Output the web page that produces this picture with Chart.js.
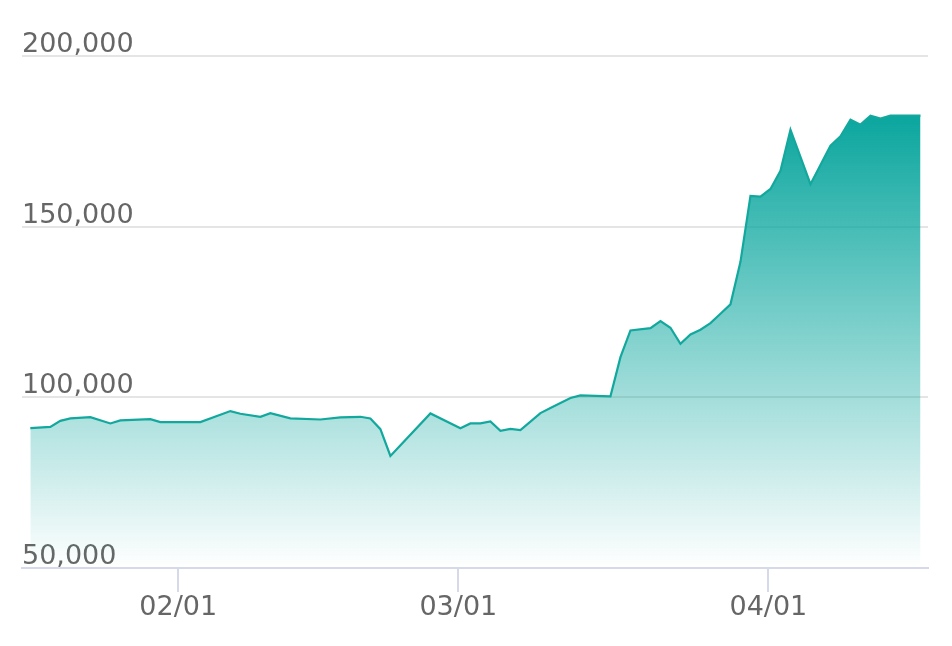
<!DOCTYPE html>
<html>
<head>
<meta charset="utf-8">
<script src="https://cdn.jsdelivr.net/npm/chart.js@4.4.1/dist/chart.umd.min.js"></script>
<style>
html,body{margin:0;padding:0;background:#ffffff;}
canvas{display:block;}
</style>
</head>
<body>
<canvas id="c" width="952" height="646"></canvas>
<script>
// ---- data ----
const YEAR = 2021;
const DATA_HOUR = 5;
const dates = [
  '01-17','01-19','01-20','01-21','01-23','01-25','01-26','01-29','01-30','02-03',
  '02-06','02-07','02-09','02-10','02-12','02-15','02-17','02-19','02-20','02-21',
  '02-22','02-26','03-01','03-02','03-03','03-04','03-05','03-06','03-07','03-09',
  '03-10','03-12','03-13','03-16','03-17','03-18','03-20','03-21','03-22','03-23',
  '03-24','03-25','03-26','03-27','03-28','03-29','03-30','03-31','04-01','04-02',
  '04-03','04-05','04-07','04-08','04-09','04-10','04-11','04-12','04-13','04-16'
];
const values = [
  90970, 91350, 93120, 93820, 94200, 92350, 93230, 93620, 92740, 92740,
  95970, 95180, 94300, 95380, 93820, 93500, 94110, 94300, 93820, 90680,
  82820, 95290, 90970, 92350, 92350, 92940, 90180, 90770, 90380, 95380,
  96850, 99790, 100590, 100290, 111760, 119590, 120290, 122350, 120380, 115680,
  118410, 119790, 121760, 124500, 127240, 139700, 159000, 158820, 161060, 166350,
  178410, 162440, 173710, 176470, 181350, 179880, 182530, 181650, 182530, 182530
];
const xTickDates = ['02-01', '03-01', '04-01'];
const xTickLabels = ['02/01', '03/01', '04/01'];
const xRange = ['01-16T09', '04-16T23'];
const yMin = 50000;
const yMax = 200000;
const yStep = 50000;

// ---- helpers ----
function dayNum(s) {
  const [d, t] = s.split('T');
  const [m, dd] = d.split('-').map(Number);
  const h = t ? Number(t) : 0;
  return (Date.UTC(YEAR, m - 1, dd) - Date.UTC(YEAR, 0, 1)) / 864e5 + h / 24;
}
const points = dates.map((d, i) => ({ x: dayNum(d + 'T' + DATA_HOUR), y: values[i] }));
const tickVals = xTickDates.map(d => dayNum(d));

const FONT = { family: "'DejaVu Sans', sans-serif", size: 27 };
const TEXT = '#666666';

new Chart(document.getElementById('c'), {
  type: 'line',
  data: {
    datasets: [{
      data: points,
      borderColor: '#12a89d',
      borderWidth: 2.2,
      pointRadius: 0,
      tension: 0,
      fill: 'start',
      backgroundColor: (ctx) => {
        const chart = ctx.chart;
        const area = chart.chartArea;
        if (!area) return 'rgba(12,166,158,0.5)';
        const ys = chart.scales.y;
        const top = ys.getPixelForValue(Math.max(...values));
        const g = chart.ctx.createLinearGradient(0, top, 0, area.bottom);
        g.addColorStop(0, 'rgba(10,166,158,1)');
        g.addColorStop(1, 'rgba(10,166,158,0)');
        return g;
      }
    }]
  },
  options: {
    responsive: false,
    animation: false,
    layout: { padding: { left: 22, right: 24, top: 56, bottom: 0 } },
    plugins: { legend: { display: false }, tooltip: { enabled: false } },
    scales: {
      x: {
        type: 'linear',
        min: dayNum(xRange[0]),
        max: dayNum(xRange[1]),
        afterBuildTicks: (scale) => { scale.ticks = tickVals.map(v => ({ value: v })); },
        afterFit: (scale) => { scale.height = 78; },
        grid: {
          drawOnChartArea: false,
          drawTicks: true,
          tickLength: 24,
          color: '#d5d9ea',
          lineWidth: 2
        },
        border: { display: true, color: '#d5d9ea', width: 2 },
        ticks: {
          font: FONT,
          color: TEXT,
          padding: 0,
          maxRotation: 0,
          autoSkip: false,
          callback: (v) => {
            const i = tickVals.indexOf(v);
            return i >= 0 ? xTickLabels[i] : '';
          }
        }
      },
      y: {
        min: yMin,
        max: yMax,
        afterFit: (scale) => { scale.width = 0; },
        grid: { color: '#e5e5e5', lineWidth: 2, drawTicks: false },
        border: { display: false },
        ticks: {
          stepSize: yStep,
          mirror: true,
          padding: 0,
          labelOffset: -11,
          font: FONT,
          color: TEXT,
          callback: (v) => v.toLocaleString('en-US')
        }
      }
    }
  }
});
</script>
</body>
</html>
